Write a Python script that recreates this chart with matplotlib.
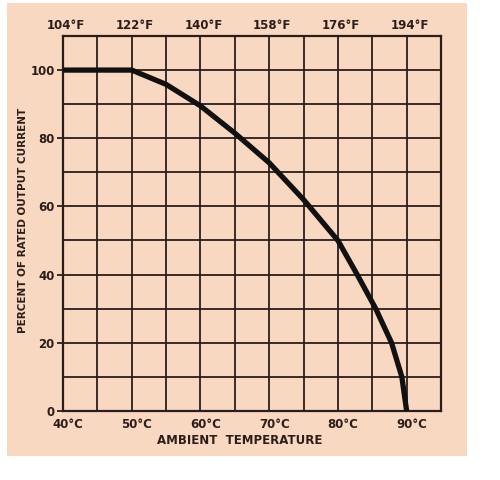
import matplotlib.pyplot as plt
from matplotlib.patches import Rectangle
from matplotlib.transforms import ScaledTranslation

# derating curve
temp_c = [40, 50, 55, 60, 65, 70, 75, 80, 82.8, 85.5, 87.8, 89.3, 90]
pct_current = [100, 100, 95.8, 89.5, 81.5, 72.8, 62, 50, 40, 30, 20, 10, 0]

c_ticks = [40, 50, 60, 70, 80, 90]
c_labels = ['40°C', '50°C', '60°C', '70°C', '80°C', '90°C']
f_labels = ['104°F', '122°F', '140°F', '158°F', '176°F', '194°F']
y_ticks = [0, 20, 40, 60, 80, 100]

peach = '#F9D8C1'
ink = '#2b1d1a'

fig = plt.figure(figsize=(5, 4.8), dpi=100)
fig.patch.set_facecolor('white')
fig.patches.append(Rectangle((0.014, 0.05), 0.92, 0.944, transform=fig.transFigure,
                             facecolor=peach, edgecolor='none', zorder=-10))

ax = fig.add_axes([0.126, 0.144, 0.756, 0.781])
ax.set_facecolor(peach)
ax.set_xlim(40, 95)
ax.set_ylim(0, 110)

for x in range(40, 96, 5):
    ax.axvline(x, color=ink, lw=1.3, zorder=1)
for y in range(0, 111, 10):
    ax.axhline(y, color=ink, lw=1.3, zorder=1)
for s in ax.spines.values():
    s.set_color(ink)
    s.set_linewidth(1.6)

ax.plot(temp_c, pct_current, color='#111111', lw=3.8, solid_capstyle='butt',
        solid_joinstyle='round', zorder=3)

font = dict(fontsize=8.5, fontweight='bold', color=ink)
ax.set_xticks(c_ticks)
ax.set_xticklabels(c_labels, **font)
ax.set_yticks(y_ticks)
ax.set_yticklabels([str(v) for v in y_ticks], **font)
ax.tick_params(axis='x', length=0, pad=5)
ax.tick_params(axis='y', length=4, width=1.3, color=ink, pad=2)

# bottom labels sit a little right of their grid lines
shift = ScaledTranslation(5 / 100, 0, fig.dpi_scale_trans)
for lab in ax.get_xticklabels():
    lab.set_transform(lab.get_transform() + shift)

top = ax.secondary_xaxis('top')
top.set_xticks(c_ticks)
top.set_xticklabels(f_labels, **font)
top.tick_params(length=0, pad=3)
top.spines['top'].set_visible(False)
shift_top = ScaledTranslation(3 / 100, 0, fig.dpi_scale_trans)
for lab in top.get_xticklabels():
    lab.set_transform(lab.get_transform() + shift_top)

fig.text(0.48, 0.083, 'AMBIENT  TEMPERATURE', ha='center', va='center', **font)
fig.text(0.046, 0.54, 'PERCENT OF RATED OUTPUT CURRENT', ha='center', va='center',
         rotation=90, fontsize=7.5, fontweight='bold', color=ink)

fig.savefig('out.png', dpi=100)
